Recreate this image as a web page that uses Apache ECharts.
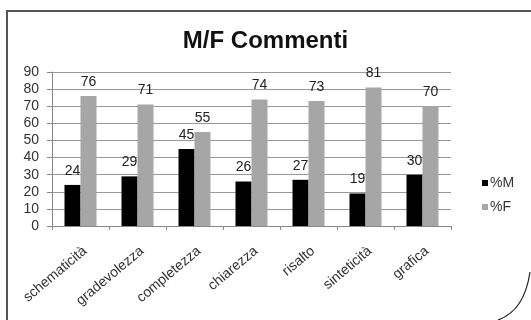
<!DOCTYPE html>
<html>
<head>
<meta charset="utf-8">
<script src="https://cdn.jsdelivr.net/npm/echarts@6/dist/echarts.min.js"></script>
<style>
  html, body { margin: 0; padding: 0; background: #fff; }
  #chart { width: 531px; height: 320px; }
</style>
</head>
<body>
<div id="chart"></div>
<script>
// Comment categories and the share of male / female respondents (%)
const categories = ['schematicità', 'gradevolezza', 'completezza', 'chiarezza', 'risalto', 'sinteticità', 'grafica'];
const valuesM = [24, 29, 45, 26, 27, 19, 30];
const valuesF = [76, 71, 55, 74, 73, 81, 70];
const yTicks = [0, 10, 20, 30, 40, 50, 60, 70, 80, 90];

const chart = echarts.init(document.getElementById('chart'), null, { renderer: 'canvas' });

const font = 'Liberation Sans, Arial, sans-serif';

const labelStyle = {
  show: true,
  position: 'top',
  distance: 7,
  color: '#222',
  fontSize: 14,
  fontFamily: font
};

chart.setOption({
  animation: false,
  backgroundColor: '#fff',
  title: {
    text: 'M/F Commenti',
    left: 'center',
    top: 24,
    textStyle: { fontFamily: font, fontWeight: 'bold', fontSize: 24, color: '#111' }
  },
  legend: {
    orient: 'vertical',
    left: 477,
    top: 171,
    itemWidth: 6,
    itemHeight: 6,
    itemGap: 10,
    icon: 'rect',
    textStyle: { fontFamily: font, fontSize: 14, color: '#333', padding: [0, 0, 0, -3] },
    data: ['%M', '%F']
  },
  grid: { left: 52, right: 80, top: 72, bottom: 94, containLabel: false },
  xAxis: {
    type: 'category',
    data: categories,
    axisLine: { show: true, lineStyle: { color: '#888', width: 1 } },
    axisTick: { show: true, length: 4, lineStyle: { color: '#888' } },
    axisLabel: {
      rotate: 40,
      interval: 0,
      margin: 18,
      verticalAlign: 'top',
      fontFamily: font,
      fontSize: 14,
      color: '#333'
    }
  },
  yAxis: {
    type: 'value',
    min: yTicks[0],
    max: yTicks[yTicks.length - 1],
    interval: 10,
    axisLine: { show: true, lineStyle: { color: '#888', width: 1 } },
    axisTick: { show: true, length: 5, lineStyle: { color: '#888' } },
    axisLabel: { margin: 13, fontFamily: font, fontSize: 14, color: '#333' },
    splitLine: { show: true, lineStyle: { color: '#999', width: 1 } }
  },
  series: [
    {
      name: '%M',
      type: 'bar',
      data: valuesM,
      barWidth: 16,
      barGap: '0%',
      itemStyle: { color: '#000' },
      label: labelStyle
    },
    {
      name: '%F',
      type: 'bar',
      data: valuesF,
      barWidth: 16,
      barGap: '0%',
      itemStyle: { color: '#a6a6a6' },
      label: labelStyle
    }
  ],
  graphic: [
    {
      type: 'polyline',
      shape: { points: [[531, 11], [7, 11], [7, 320]] },
      style: { stroke: '#555', lineWidth: 2, fill: null }
    },
    {
      type: 'bezierCurve',
      shape: { x1: 530, y1: 272, cpx1: 526, cpy1: 300, cpx2: 515, cpy2: 314, x2: 498, y2: 320 },
      style: { stroke: '#222', lineWidth: 1.2, fill: null }
    }
  ]
});
</script>
</body>
</html>
